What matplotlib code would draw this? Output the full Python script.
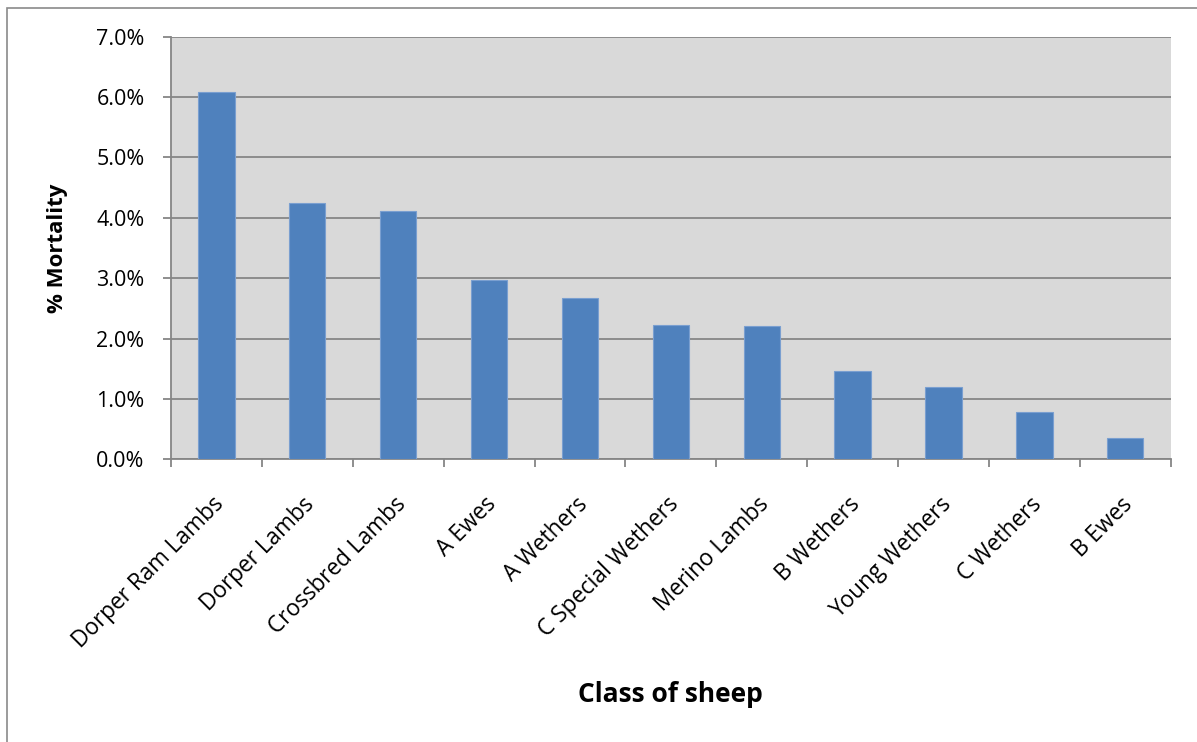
import matplotlib
matplotlib.use("Agg")
import matplotlib.pyplot as plt
import matplotlib.transforms as mtransforms
from matplotlib.patches import Rectangle
from matplotlib.ticker import FixedLocator, FuncFormatter

# Mortality by class of sheep (percent)
classes = [
    "Dorper Ram Lambs", "Dorper Lambs", "Crossbred Lambs", "A Ewes",
    "A Wethers", "C Special Wethers", "Merino Lambs", "B Wethers",
    "Young Wethers", "C Wethers", "B Ewes",
]
mortality_pct = [6.08, 4.25, 4.11, 2.97, 2.68, 2.23, 2.20, 1.47, 1.19, 0.78, 0.35]
y_ticks = [0, 1, 2, 3, 4, 5, 6, 7]

FONT = "Open Sans"
GRID = "#868686"
BAR = "#4F81BD"

W, H = 1197, 742
fig = plt.figure(figsize=(W / 100, H / 100), dpi=100)
fig.patch.set_facecolor("white")

# chart frame (runs off the right and bottom of the canvas)
fig.add_artist(Rectangle((7 / W, -0.1), 1.2, (H - 8) / H + 0.1,
                         transform=fig.transFigure, fill=False,
                         edgecolor="#8a8a8a", linewidth=1.2))

ax = fig.add_axes([171 / W, (H - 459.3) / H, (1170.7 - 171) / W, (459.3 - 36.7) / H])
ax.set_facecolor("#D9D9D9")

n = len(classes)
x = list(range(n))
ax.bar(x, mortality_pct, width=0.4, color=BAR, edgecolor="#7A9FD0",
       linewidth=0.8, zorder=3)

ax.set_xlim(-0.5, n - 0.5)
ax.set_ylim(0, 7)

# horizontal gridlines
ax.yaxis.set_major_locator(FixedLocator(y_ticks))
ax.yaxis.set_major_formatter(FuncFormatter(lambda v, _: f"{v:.1f}%"))
ax.grid(axis="y", color=GRID, linewidth=1.3, zorder=1)
ax.set_axisbelow(True)

for side in ("top", "right"):
    ax.spines[side].set_visible(False)
for side in ("left", "bottom"):
    ax.spines[side].set_color(GRID)
    ax.spines[side].set_linewidth(1.3)

ax.tick_params(axis="y", which="major", length=6, width=1.3, color=GRID,
               pad=13, labelsize=15.5, labelcolor="black")
for lbl in ax.get_yticklabels():
    lbl.set_fontfamily(FONT)

# category labels at bar centres, tick marks on category boundaries
ax.set_xticks(x)
ax.set_xticks([i - 0.5 for i in range(n + 1)], minor=True)
ax.tick_params(axis="x", which="major", length=0, pad=30)
ax.tick_params(axis="x", which="minor", length=6, width=1.3, color=GRID)
ax.set_xticklabels(classes, rotation=45, ha="right", va="center",
                   rotation_mode="anchor", fontsize=16.3, fontfamily=FONT)
shift = mtransforms.ScaledTranslation(4 / 100, 0, fig.dpi_scale_trans)
for lbl in ax.get_xticklabels():
    lbl.set_transform(lbl.get_transform() + shift)

fig.text(58 / W, 1 - 248 / H, "% Mortality", rotation=90, ha="center",
         va="center", fontsize=16, fontweight="bold", fontfamily=FONT)
fig.text(670 / W, 1 - 695 / H, "Class of sheep", ha="center", va="center",
         fontsize=19, fontweight="bold", fontfamily=FONT)

fig.savefig("out.png", dpi=100, facecolor="white")
